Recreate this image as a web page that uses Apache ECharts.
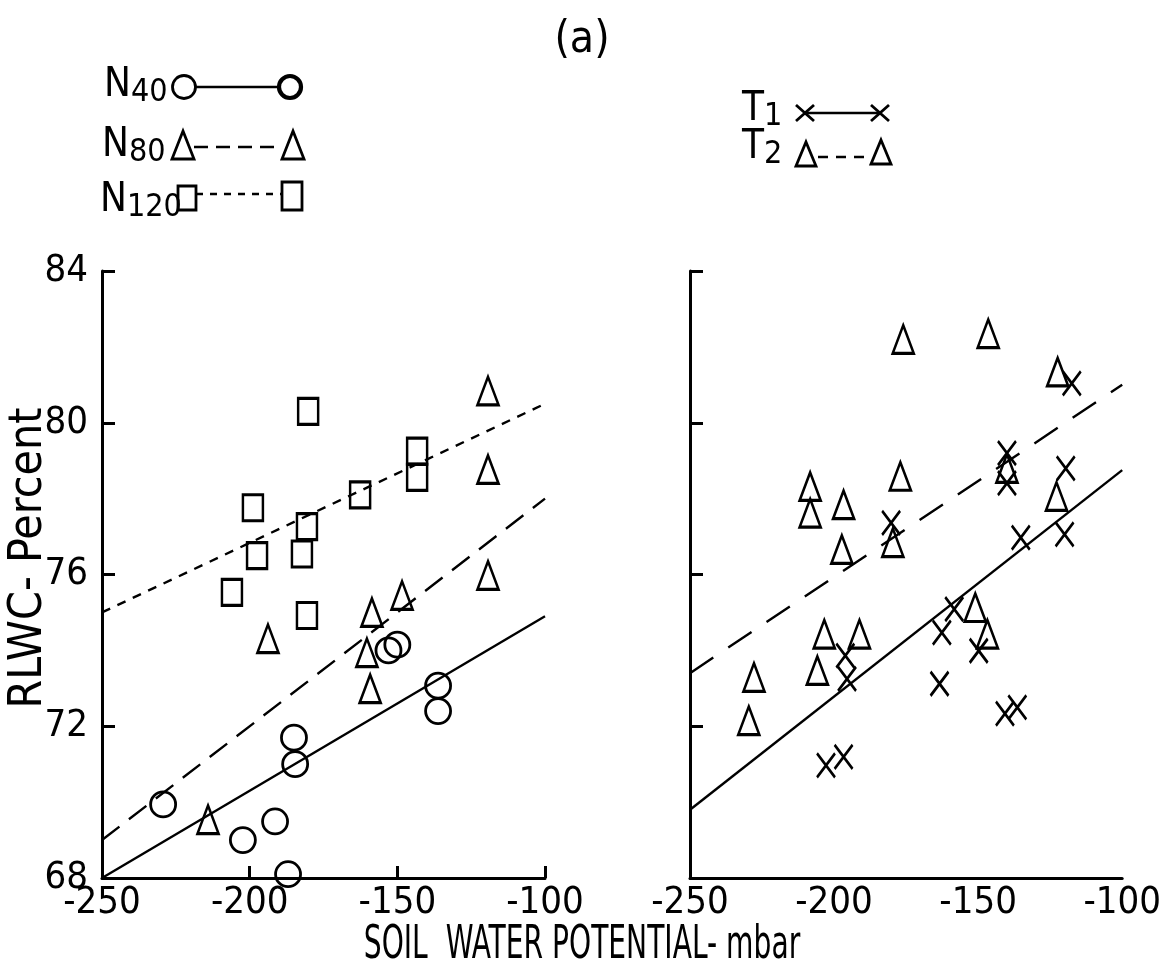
<!DOCTYPE html>
<html><head><meta charset="utf-8">
<script src="https://cdn.jsdelivr.net/npm/echarts@6/dist/echarts.min.js"></script>
<style>html,body{margin:0;padding:0;background:#fff}#c{width:1164px;height:977px}</style>
</head><body><div id="c"></div>
<script>
// ---- data ----
const xMin = -250, xMax = -100, xStep = 50;
const yMin = 68, yMax = 84, yStep = 4;

// left panel : nitrogen levels
const n40 = [[-229.3,69.94],[-202.3,69.0],[-191.4,69.49],[-187,68.1],[-185,71.7],[-184.6,71.0],[-153,74.0],[-150,74.15],[-136.2,73.07],[-136.2,72.4]];
const n80 = [[-214.1,69.54],[-193.8,74.31],[-160.3,73.94],[-159.2,72.99],[-158.6,75.0],[-148.4,75.45],[-119.3,80.84],[-119.3,78.77],[-119.3,75.98]];
const n120 = [[-206,75.53],[-198.9,77.76],[-197.5,76.5],[-182.3,76.54],[-180.6,77.26],[-180.6,74.92],[-180.2,80.3],[-162.6,78.1],[-143.3,79.25],[-143.3,78.56]];
const n40Fit = [[-250,68.0],[-100,74.9]];
const n80Fit = [[-250,69.0],[-100,78.0]];
const n120Fit = [[-250,75.0],[-100,80.5]];

// right panel : treatments
const t1 = [[-117.5,81.04],[-140,79.2],[-140,78.41],[-119.6,78.8],[-180.2,77.36],[-135.2,76.97],[-120,77.06],[-158.3,75.09],[-162.6,74.47],[-149.8,73.99],[-196.1,73.86],[-195.5,73.25],[-163.4,73.12],[-140.7,72.33],[-136.4,72.5],[-202.8,70.97],[-196.7,71.19]];
const t2 = [[-176,82.2],[-146.5,82.35],[-122.4,81.34],[-140,78.8],[-122.8,78.06],[-177,78.59],[-208.3,78.32],[-208.3,77.62],[-196.7,77.84],[-179.6,76.84],[-197.3,76.66],[-151,75.13],[-146.8,74.43],[-203.4,74.43],[-191.2,74.43],[-205.8,73.47],[-227.8,73.29],[-229.6,72.15]];
const t1Fit = [[-250,69.8],[-100,78.75]];
const t2Fit = [[-250,73.4],[-100,81.0]];

// ---- styling ----
const FONT = "'Liberation Sans Narrow','DejaVu Sans Condensed','Liberation Sans',sans-serif";
const INK = '#000';
const TRI = 'path://M5,0 L10,14 L0,14 Z';
const CROSS = 'path://M0,0 L10,12 M10,0 L0,12';
const hollow = {color: 'rgba(0,0,0,0)', borderColor: INK, borderWidth: 2.8, opacity: 1};

function xAxis(grid, ticks) {
  return {
    gridIndex: grid, type: 'value', min: xMin, max: xMax, interval: xStep,
    axisLine: {show: true, onZero: false, lineStyle: {color: INK, width: 3}},
    axisTick: {show: ticks, inside: true, length: 12, lineStyle: {color: INK, width: 3}},
    axisLabel: {color: INK, fontSize: 38, fontFamily: FONT, margin: 6},
    splitLine: {show: false}
  };
}
function yAxis(grid, labels) {
  return {
    gridIndex: grid, type: 'value', min: yMin, max: yMax, interval: yStep,
    axisLine: {show: true, onZero: false, lineStyle: {color: INK, width: 3}},
    axisTick: {show: true, inside: true, length: 13, lineStyle: {color: INK, width: 3}},
    axisLabel: {show: labels, color: INK, fontSize: 38, fontFamily: FONT, margin: 14},
    splitLine: {show: false}
  };
}
function pts(data, xi, sym, size) {
  return {type: 'scatter', xAxisIndex: xi, yAxisIndex: xi, data: data, symbol: sym,
    symbolSize: size, itemStyle: hollow, z: 3, silent: true};
}
function fit(data, xi, type) {
  return {type: 'line', xAxisIndex: xi, yAxisIndex: xi, data: data, symbol: 'none',
    lineStyle: {color: INK, width: 2.4, type: type, opacity: 1}, z: 2, silent: true};
}

const legendText = (x, y, main, sub) => ({
  type: 'text', left: x, top: y,
  style: {text: '{m|' + main + '}{s|' + sub + '}', rich: {
    m: {fontSize: 40, fontFamily: FONT, fill: INK},
    s: {fontSize: 32, fontFamily: FONT, fill: INK, padding: [14, 0, 0, 0]}
  }}
});
const sym = (shape, cx, cy, w, h, lw) => {
  let el;
  if (shape === 'circle') el = {type: 'circle', shape: {cx: cx, cy: cy, r: w / 2}};
  else if (shape === 'rect') el = {type: 'rect', shape: {x: cx - w / 2, y: cy - h / 2, width: w, height: h}};
  else if (shape === 'tri') el = {type: 'polygon', shape: {points: [[cx, cy - h / 2], [cx + w / 2, cy + h / 2], [cx - w / 2, cy + h / 2]]}};
  else el = {type: 'polyline', shape: {points: [[cx - w / 2, cy - h / 2], [cx, cy], [cx + w / 2, cy + h / 2], [cx, cy], [cx + w / 2, cy - h / 2], [cx, cy], [cx - w / 2, cy + h / 2]]}};
  el.style = {fill: 'none', stroke: INK, lineWidth: lw || 2.8};
  return el;
};
const seg = (x1, y1, x2, y2, dash) => ({type: 'line', shape: {x1: x1, y1: y1, x2: x2, y2: y2},
  style: {stroke: INK, lineWidth: 2.4, lineDash: dash || null}});

const graphics = [
  {type: 'text', x: 582, y: 41, style: {text: '(a)', fontSize: 44, fontFamily: FONT, fill: INK, align: 'center', verticalAlign: 'middle'}},
  legendText(104, 66, 'N', '40'), sym('circle', 184, 87, 23, 23), seg(196, 87, 278, 87), sym('circle', 290, 87, 22, 22, 4.2),
  legendText(102, 126, 'N', '80'), sym('tri', 183, 145, 22, 28), seg(194, 147, 282, 147, [14, 8]), sym('tri', 293, 145, 22, 28),
  legendText(100, 181, 'N', '120'), sym('rect', 187, 198, 18, 24), seg(196, 194, 282, 194, [7, 7]), sym('rect', 292, 196, 20, 28),
  legendText(742, 90, 'T', '1'), sym('x', 805, 113, 18, 16), seg(805, 113, 880, 113), sym('x', 880, 113, 18, 16),
  legendText(742, 128, 'T', '2'), sym('tri', 806, 154, 20, 24), seg(818, 157, 868, 157, [10, 8]), sym('tri', 881, 152, 20, 24),
  {type: 'text', x: 582, y: 946, scaleX: 0.68, style: {text: 'SOIL  WATER POTENTIAL- mbar', fontSize: 46, fontFamily: FONT, fill: INK, align: 'center', verticalAlign: 'middle'}},
  {type: 'text', x: 29, y: 558, rotation: Math.PI / 2, style: {text: 'RLWC- Percent', fontSize: 46, fontFamily: FONT, fill: INK, align: 'center', verticalAlign: 'middle'}}
];

const chart = echarts.init(document.getElementById('c'), null, {renderer: 'canvas'});
chart.setOption({
  backgroundColor: '#fff',
  animation: false,
  grid: [
    {left: 102, top: 271, width: 443, height: 607},
    {left: 690, top: 271, width: 443, height: 607}
  ],
  xAxis: [xAxis(0, true), xAxis(1, false)],
  yAxis: [yAxis(0, true), yAxis(1, false)],
  graphic: graphics,
  series: [
    fit(n40Fit, 0, 'solid'), fit(n80Fit, 0, [22, 12]), fit(n120Fit, 0, [9, 8]),
    pts(n40, 0, 'circle', 25), pts(n80, 0, TRI, [21, 28]), pts(n120, 0, 'rect', [20, 26]),
    fit(t1Fit, 1, 'solid'), fit(t2Fit, 1, [28, 18]),
    pts(t1, 1, CROSS, [18, 24]), pts(t2, 1, TRI, [21, 28])
  ]
});
</script></body></html>
